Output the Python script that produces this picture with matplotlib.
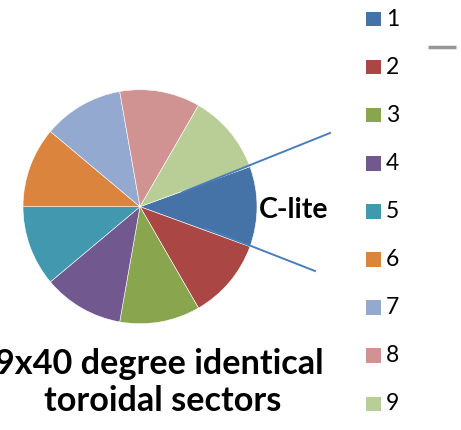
import matplotlib
matplotlib.use("Agg")
import matplotlib.pyplot as plt
from matplotlib.patches import Rectangle
from matplotlib.lines import Line2D

# ---- data ----
labels = ["1", "2", "3", "4", "5", "6", "7", "8", "9"]
values = [40, 40, 40, 40, 40, 40, 40, 40, 40]
colors = ["#4572A7", "#AA4643", "#89A54E", "#71588F", "#4198AF",
          "#DB843D", "#93A9CF", "#D19392", "#B9CD96"]
title_lines = ["9x40 degree identical", "toroidal sectors"]
annotation = "C-lite"

W, H = 461, 430
fig = plt.figure(figsize=(W / 100, H / 100), dpi=100)

def fx(px):
    return px / W

def fy(py):
    return 1 - py / H

# pie axes: center (140, 206.7), radius ~117
cx, cy, r = 140, 206.7, 117
ax = fig.add_axes([fx(cx - r), fy(cy + r), 2 * r / W, 2 * r / H])
ax.pie(values, colors=colors, startangle=20, counterclock=False,
       radius=1, wedgeprops=dict(edgecolor="white", linewidth=0.4))
ax.set_xlim(-1, 1)
ax.set_ylim(-1, 1)
ax.set_aspect("equal")
ax.axis("off")

font = "Lato"
# C-lite annotation
fig.text(fx(259), fy(218), annotation, fontsize=20.5, fontweight="bold",
         family=font, ha="left", va="baseline", color="black")

# lines delimiting C-lite sector
line_color = "#4A7EBB"
fig.add_artist(Line2D([fx(330), fx(183)], [fy(133), fy(192)],
                      color=line_color, lw=1.4))
fig.add_artist(Line2D([fx(315), fx(205)], [fy(271), fy(228)],
                      color=line_color, lw=1.4))

# title text
fig.text(fx(159), fy(374), title_lines[0], fontsize=24.7, fontweight="bold",
         family=font, ha="center", va="baseline", color="black")
fig.text(fx(163), fy(411), title_lines[1], fontsize=24.7, fontweight="bold",
         family=font, ha="center", va="baseline", color="black")

# legend (manual)
y0, dy = 19, 48.1
sq = 14.5
for i, (lab, col) in enumerate(zip(labels, colors)):
    yc = y0 + dy * i
    fig.add_artist(Rectangle((fx(366), fy(yc + sq / 2)), sq / W, sq / H,
                             facecolor=col, edgecolor="none",
                             transform=fig.transFigure))
    fig.text(fx(386), fy(yc), lab, fontsize=16.5, family=font,
             ha="left", va="center", color="black")

# small gray line at top right
fig.add_artist(Line2D([fx(428), fx(456)], [fy(46.7), fy(46.7)],
                      color="#969696", lw=2.5, solid_capstyle="butt"))

fig.savefig("out.png", dpi=100, facecolor="white")
